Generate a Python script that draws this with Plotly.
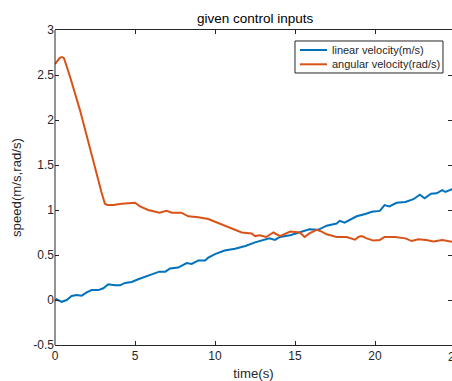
import plotly.graph_objects as go

# ---- data ----
t_lin = [0.0, 0.1, 0.42, 0.73, 1.04, 1.35, 1.67, 1.98, 2.29, 2.71, 3.02, 3.33, 3.75, 4.06, 4.38, 4.79,
         5.2, 5.63, 5.94, 6.25, 6.52, 6.9, 7.19, 7.7, 8.23, 8.54, 8.96, 9.38, 9.58, 10.0, 10.6,
         11.25, 11.9, 12.5, 13.1, 13.4, 13.75, 14.06, 14.7, 15.3, 15.9, 16.45, 16.98, 17.6, 17.8,
         18.1, 18.4, 18.85, 19.4, 19.8, 20.3, 20.6, 20.9, 21.35, 21.9, 22.4, 22.8, 23.1, 23.5,
         23.85, 24.2, 24.4, 24.8, 25.0]
v_lin = [-0.01, 0.008, -0.02, 0.0, 0.044, 0.056, 0.048, 0.085, 0.11, 0.11, 0.13, 0.174, 0.163, 0.163,
         0.19, 0.2, 0.23, 0.26, 0.28, 0.3, 0.315, 0.315, 0.35, 0.36, 0.41, 0.40, 0.44, 0.44, 0.47,
         0.51, 0.55, 0.57, 0.60, 0.64, 0.667, 0.685, 0.667, 0.70, 0.72, 0.75, 0.785, 0.78, 0.826,
         0.85, 0.88, 0.86, 0.89, 0.93, 0.955, 0.98, 0.99, 1.055, 1.04, 1.08, 1.09, 1.12, 1.17, 1.13,
         1.18, 1.185, 1.22, 1.20, 1.23, 1.22]

t_ang = [0.0, 0.14, 0.3, 0.42, 0.55, 0.63, 0.94, 1.56, 2.19, 2.71, 2.9, 3.02, 3.12, 3.27, 3.65, 4.17,
         5.0, 5.31, 5.83, 6.52, 6.98, 7.3, 7.9, 8.33, 8.96, 9.58, 10.4, 11.04, 11.67, 12.29, 12.5,
         12.8, 13.2, 13.65, 14.06, 14.7, 15.3, 15.6, 15.9, 16.35, 16.67, 16.98, 17.6, 18.23, 18.75,
         18.96, 19.17, 19.48, 19.9, 20.3, 20.6, 21.25, 21.9, 22.3, 22.7, 23.2, 23.65, 24.2, 24.8, 25.0]
v_ang = [2.62, 2.65, 2.69, 2.70, 2.69, 2.65, 2.48, 2.11, 1.70, 1.33, 1.2, 1.11, 1.07, 1.056, 1.056,
         1.07, 1.08, 1.04, 1.0, 0.97, 0.99, 0.97, 0.97, 0.93, 0.92, 0.90, 0.84, 0.80, 0.75, 0.74,
         0.71, 0.72, 0.70, 0.75, 0.71, 0.76, 0.75, 0.70, 0.74, 0.78, 0.76, 0.73, 0.70, 0.70, 0.67,
         0.70, 0.71, 0.685, 0.66, 0.667, 0.70, 0.70, 0.685, 0.655, 0.674, 0.667, 0.65, 0.667, 0.65, 0.64]

series_names = ["linear velocity(m/s)", "angular velocity(rad/s)"]
series_colors = ["#0072BD", "#D95319"]

x_ticks = [0, 5, 10, 15, 20]
x_ticktext = ["0", "5", "10", "15", "20"]
y_ticks = [-0.5, 0, 0.5, 1, 1.5, 2, 2.5, 3]
y_ticktext = ["-0.5", "0", "0.5", "1", "1.5", "2", "2.5", "3"]

FONT = "Liberation Sans, Arial, Helvetica, sans-serif"
AX = "#262626"

fig = go.Figure()
for (tx, vy), name, col in zip([(t_lin, v_lin), (t_ang, v_ang)], series_names, series_colors):
    fig.add_trace(go.Scatter(x=tx, y=vy, mode="lines", name=name,
                             line=dict(color=col, width=2), showlegend=False))

fig.update_layout(
    width=452, height=381,
    margin=dict(l=55, r=0, t=30, b=36),
    paper_bgcolor="white", plot_bgcolor="white",
    font=dict(family=FONT, color=AX, size=12),
    showlegend=False,
    xaxis=dict(range=[0, 24.8125], tickvals=x_ticks, ticktext=x_ticktext,
               ticks="inside", ticklen=4, tickcolor=AX, tickwidth=1,
               showline=True, linecolor=AX, linewidth=1, mirror="ticks",
               showgrid=False, zeroline=False,
               tickfont=dict(size=12, color=AX, family=FONT),
               title=dict(text="time(s)", font=dict(size=13.2, color=AX, family=FONT), standoff=6)),
    yaxis=dict(range=[-0.5, 3], tickvals=y_ticks, ticktext=y_ticktext,
               ticks="inside", ticklen=4, tickcolor=AX, tickwidth=1,
               showline=False, mirror="ticks",
               showgrid=False, zeroline=False,
               tickfont=dict(size=12, color=AX, family=FONT),
               title=dict(text="speed(m/s,rad/s)", font=dict(size=13.2, color=AX, family=FONT), standoff=8)),
)

# left axis line
fig.add_shape(type="line", xref="paper", yref="paper", x0=0, x1=0, y0=0, y1=1,
              line=dict(color=AX, width=1))

# legend box (MATLAB style)
fig.add_shape(type="rect", xref="paper", yref="paper", x0=0.6045, x1=0.9773, y0=0.8635, y1=0.9651,
              line=dict(color=AX, width=1), fillcolor="white", layer="above")
legend_rows_y = [0.9365, 0.8911]
for name, col, ry in zip(series_names, series_colors, legend_rows_y):
    fig.add_shape(type="line", xref="paper", yref="paper", x0=0.6171, x1=0.6851, y0=ry, y1=ry,
                  line=dict(color=col, width=2), layer="above")
    fig.add_annotation(text=name, xref="paper", yref="paper", x=0.6927, y=ry,
                       xanchor="left", yanchor="middle", showarrow=False,
                       font=dict(size=11, color=AX, family=FONT))

# title
fig.add_annotation(text="given control inputs", xref="x", yref="paper", x=12.5, y=1,
                   yanchor="bottom", yshift=2, showarrow=False,
                   font=dict(size=13.5, color="black", family=FONT))
# partially visible "25" tick label at the cut-off right edge
fig.add_annotation(text="25", xref="paper", yref="paper", x=1.00756, y=0, yanchor="top", yshift=-3,
                   xanchor="center", showarrow=False, font=dict(size=12, color=AX, family=FONT))

fig.write_html("out.html")
